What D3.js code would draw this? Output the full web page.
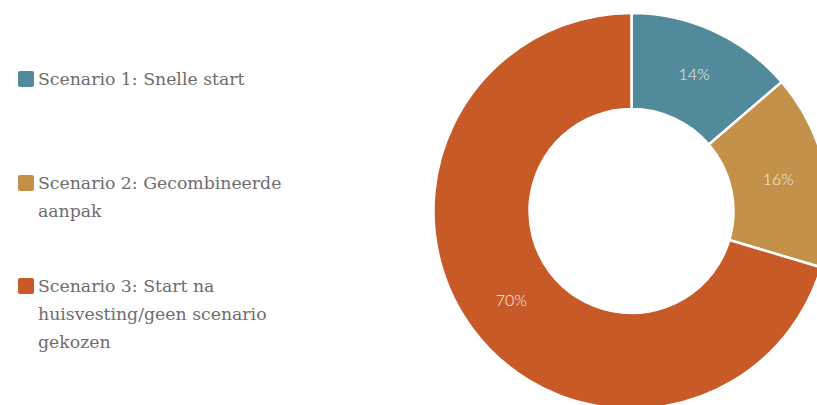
<!DOCTYPE html>
<html>
<head>
<meta charset="utf-8">
<script src="https://cdn.jsdelivr.net/npm/d3@7.9.0/dist/d3.min.js"></script>
<style>
  html, body { margin: 0; padding: 0; background: #fff; }
  svg { display: block; }
</style>
</head>
<body>
<svg id="chart" width="817" height="405"></svg>
<script>
const labels = [
  ['Scenario 1: Snelle start'],
  ['Scenario 2: Gecombineerde', 'aanpak'],
  ['Scenario 3: Start na', 'huisvesting/geen scenario', 'gekozen']
];
const values = [13.7, 15.9, 70.4];
const colors = ['#518b9b', '#c4914a', '#c85a27'];

const width = 817;
const height = 405;
const cx = 631.5;
const cy = 211;
const outerR = 198;
const innerR = 102;

const svg = d3.select('#chart');

const pie = d3.pie().sort(null).value(d => d);
const arc = d3.arc().innerRadius(innerR).outerRadius(outerR);
const labelArc = d3.arc().innerRadius(150).outerRadius(150);
const arcs = pie(values);

const g = svg.append('g').attr('transform', `translate(${cx},${cy})`);

g.selectAll('path').data(arcs).join('path')
  .attr('d', arc)
  .attr('fill', (d, i) => colors[i])
  .attr('stroke', '#fff')
  .attr('stroke-width', 2.5);

g.selectAll('text').data(arcs).join('text')
  .attr('transform', d => `translate(${labelArc.centroid(d)})`)
  .attr('text-anchor', 'middle')
  .attr('dy', '0.35em')
  .attr('fill', '#f5eee6')
  .style('font-family', 'Lato, "Noto Sans", sans-serif')
  .style('font-weight', 300)
  .style('font-size', '16px')
  .text(d => Math.round(d.data) + '%');

// legend
const legendTops = [79, 183, 286];
const lineH = 28;
const legend = svg.append('g');
labels.forEach((lines, i) => {
  const item = legend.append('g').attr('transform', `translate(0,${legendTops[i]})`);
  item.append('rect')
    .attr('x', 18).attr('y', -8).attr('width', 16).attr('height', 16)
    .attr('rx', 2)
    .attr('fill', colors[i]);
  const t = item.append('text')
    .attr('x', 38)
    .attr('fill', '#6d6d6d')
    .style('font-family', '"DejaVu Serif", serif')
    .style('font-size', '17.3px');
  lines.forEach((line, j) => {
    t.append('tspan').attr('x', 38).attr('y', j * lineH).attr('dy', '0.35em').text(line);
  });
});
</script>
</body>
</html>
